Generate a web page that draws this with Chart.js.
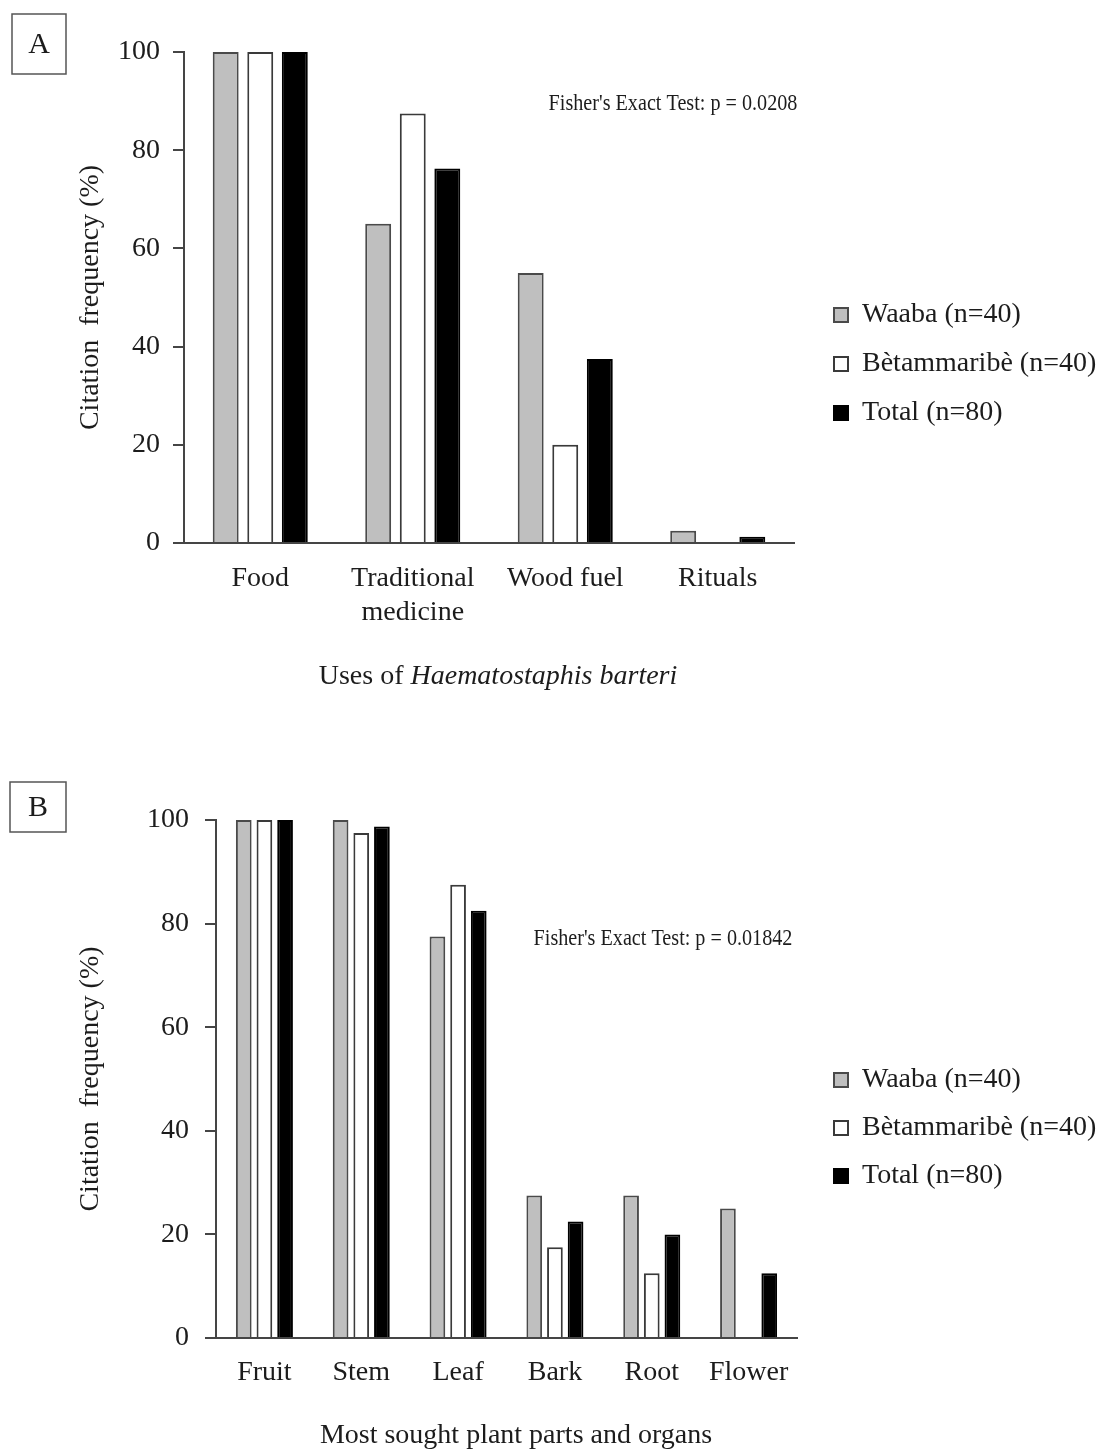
<!DOCTYPE html>
<html>
<head>
<meta charset="utf-8">
<script src="https://cdn.jsdelivr.net/npm/chart.js@4.4.1/dist/chart.umd.min.js"></script>
<style>
  html, body { margin: 0; padding: 0; background: #ffffff; }
  #wrap { position: relative; width: 1108px; height: 1449px; overflow: hidden; }
  canvas { position: absolute; left: 0; }
  #chartA { top: 0; }
  #chartB { top: 730px; }
</style>
</head>
<body>
<div id="wrap">
  <canvas id="chartA" width="1108" height="730"></canvas>
  <canvas id="chartB" width="1108" height="719"></canvas>
</div>
<script>
// ---------- DATA ----------
const seriesLabels = ['Waaba (n=40)', 'Bètammaribè (n=40)', 'Total (n=80)'];
const yTickValues = [0, 20, 40, 60, 80, 100];

const usesCategories = ['Food', ['Traditional', 'medicine'], 'Wood fuel', 'Rituals'];
const usesWaaba = [100, 65, 55, 2.5];
const usesBetammaribe = [100, 87.5, 20, 0];
const usesTotal = [100, 76.25, 37.5, 1.25];

const partsCategories = ['Fruit', 'Stem', 'Leaf', 'Bark', 'Root', 'Flower'];
const partsWaaba = [100, 100, 77.5, 27.5, 27.5, 25];
const partsBetammaribe = [100, 97.5, 87.5, 17.5, 12.5, 0];
const partsTotal = [100, 98.75, 82.5, 22.5, 20, 12.5];

const yAxisTitle = 'Citation  frequency (%)';
const usesTitleParts = [['Uses of ', false], ['Haematostaphis barteri', true]];
const partsTitleParts = [['Most sought plant parts and organs', false]];
const usesTest = "Fisher's Exact Test: p = 0.0208";
const partsTest = "Fisher's Exact Test: p = 0.01842";

// ---------- STYLE ----------
const FONT = "'Liberation Serif', 'DejaVu Serif', serif";
const TXT = '#1c1c1c';
const AX = '#454545';
const fills = ['#bfbfbf', '#ffffff', '#000000'];
const borders = ['#4a4a4a', '#3a3a3a', '#000000'];

function makeChart(id, L) {
  const ctx = document.getElementById(id);
  const datasets = L.series.map((vals, i) => ({
    label: seriesLabels[i],
    data: vals,
    backgroundColor: fills[i],
    borderColor: borders[i],
    borderWidth: 2,
    barPercentage: L.barPct,
    categoryPercentage: L.catPct
  }));

  const overlay = {
    id: 'overlay',
    beforeInit(chart) {
      const lg = chart.legend;
      const origFit = lg.fit;
      lg.fit = function () {
        origFit.call(lg);
        lg.width = chart.width - L.right;
      };
    },
    afterLayout(chart) {
      const lg = chart.legend;
      lg.left = L.legendLeft;
      lg.top = L.legendTop;
    },
    afterDraw(chart) {
      const c = chart.ctx;
      c.save();
      // panel label box
      c.strokeStyle = '#555';
      c.lineWidth = 1.5;
      c.strokeRect(L.box[0], L.box[1], L.box[2], L.box[3]);
      c.fillStyle = TXT;
      c.font = '30px ' + FONT;
      c.textAlign = 'center';
      c.textBaseline = 'middle';
      c.fillText(L.panel, L.box[0] + L.box[2] / 2, L.box[1] + L.box[3] / 2 + 1);
      // test annotation (condensed)
      c.save();
      c.font = '24px ' + FONT;
      c.textAlign = 'center';
      c.translate(L.test[0], L.test[1]);
      c.scale(0.84, 1);
      c.fillText(L.testText, 0, 0);
      c.restore();
      // x-axis title (mixed italic)
      c.textAlign = 'left';
      let total = 0;
      const widths = L.titleParts.map(([t, it]) => {
        c.font = (it ? 'italic ' : '') + '28px ' + FONT;
        const w = c.measureText(t).width;
        total += w;
        return w;
      });
      let x = L.xTitle[0] - total / 2;
      L.titleParts.forEach(([t, it], i) => {
        c.font = (it ? 'italic ' : '') + '28px ' + FONT;
        c.fillText(t, x, L.xTitle[1]);
        x += widths[i];
      });
      c.restore();
    }
  };

  return new Chart(ctx, {
    type: 'bar',
    data: { labels: L.categories, datasets },
    plugins: [overlay],
    options: {
      responsive: false,
      animation: false,
      devicePixelRatio: 1,
      layout: { padding: { top: L.top, left: 70, right: 0, bottom: 0 } },
      plugins: {
        tooltip: { enabled: false },
        legend: {
          position: 'right',
          align: 'start',
          labels: {
            boxWidth: 14,
            boxHeight: 14,
            padding: L.legendPad,
            color: TXT,
            font: { family: FONT, size: 28 }
          }
        }
      },
      scales: {
        x: {
          grid: { display: false },
          border: { display: true, color: AX, width: 2 },
          ticks: { color: TXT, font: { family: FONT, size: 28 }, padding: L.xPad, maxRotation: 0, autoSkip: false },
          afterFit(s) { s.height = L.canvasH - L.bottom; }
        },
        y: {
          min: 0,
          max: 100,
          afterBuildTicks(s) { s.ticks = yTickValues.map(v => ({ value: v })); },
          grid: { drawOnChartArea: false, drawTicks: true, tickLength: 11, color: AX, lineWidth: 2 },
          border: { display: true, color: AX, width: 2 },
          ticks: { color: TXT, font: { family: FONT, size: 28 }, padding: L.yPad },
          title: { display: true, text: yAxisTitle, color: TXT, font: { family: FONT, size: 28 }, padding: { top: 4, bottom: 4 } },
          afterFit(s) { s.width = L.left - 70; }
        }
      }
    }
  });
}

makeChart('chartA', {
  categories: usesCategories,
  series: [usesWaaba, usesBetammaribe, usesTotal],
  barPct: 0.75, catPct: 0.68,
  canvasH: 730, top: 52, bottom: 543, left: 184, right: 794,
  legendLeft: 813, legendTop: 280, legendPad: 21,
  xPad: 11, yPad: 13,
  panel: 'A', box: [12, 14, 54, 60],
  test: [673, 104], testText: usesTest,
  xTitle: [498, 677], titleParts: usesTitleParts
});

makeChart('chartB', {
  categories: partsCategories,
  series: [partsWaaba, partsBetammaribe, partsTotal],
  barPct: 0.76, catPct: 0.64,
  canvasH: 719, top: 90, bottom: 608, left: 216, right: 797,
  legendLeft: 814, legendTop: 316, legendPad: 20,
  xPad: 10, yPad: 16,
  panel: 'B', box: [10, 52, 56, 50],
  test: [663, 209], testText: partsTest,
  xTitle: [516, 706], titleParts: partsTitleParts
});
</script>
</body>
</html>
